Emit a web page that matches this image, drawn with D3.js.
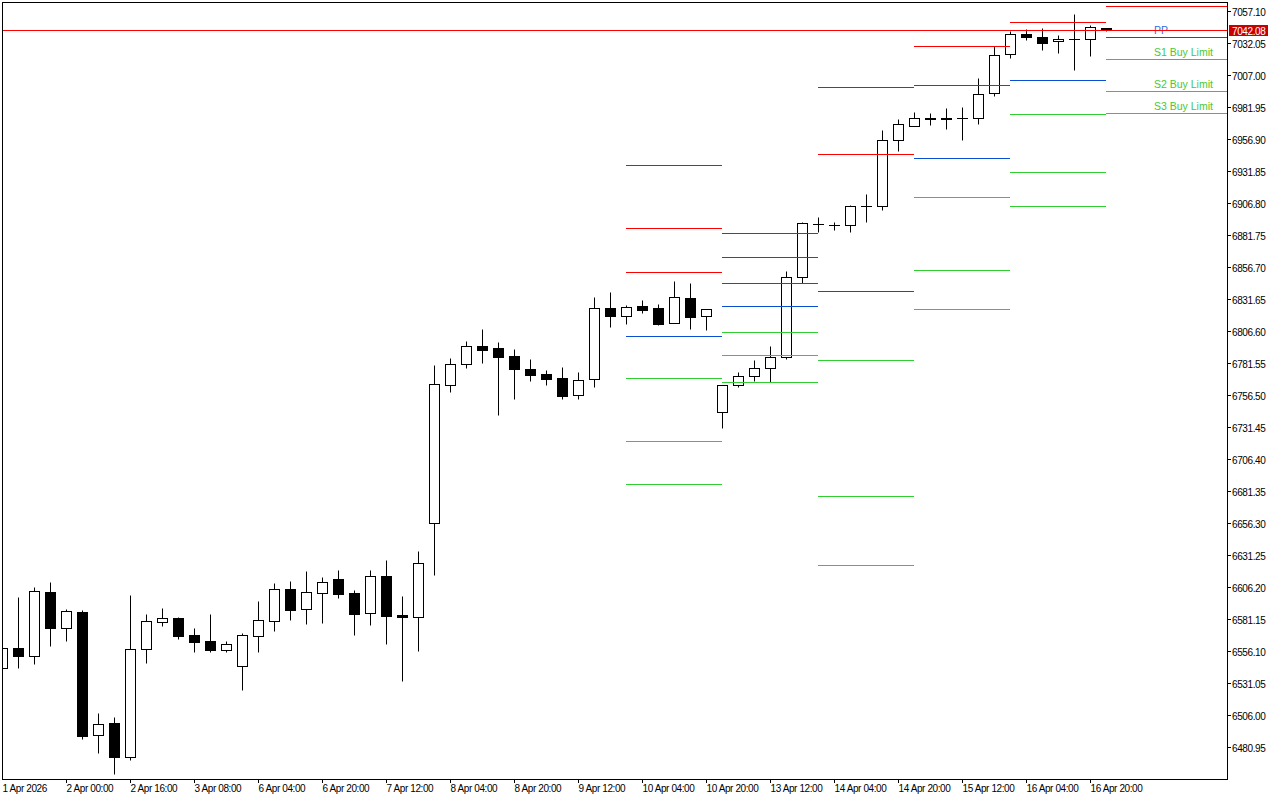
<!DOCTYPE html>
<html>
<head>
<meta charset="utf-8">
<script src="https://cdn.jsdelivr.net/npm/d3@7"></script>
<style>
  html, body { margin: 0; padding: 0; background: #fff; }
  svg { display: block; }
  text { font-family: "Liberation Sans", Arial, sans-serif; }
</style>
</head>
<body>
<div id="chart"></div>
<script>
// 4H bars, 1 Apr 08:00 .. 17 Apr 00:00
const open = [6542.6, 6558.2, 6552.4, 6602.1, 6573.9, 6586.4, 6490.1, 6499.5, 6473.4, 6557.4,
  6578.6, 6581.9, 6568.6, 6563.9, 6557.1, 6544.6, 6568.1, 6579.8, 6604.4, 6589.2,
  6601.7, 6612.2, 6601.3, 6586.1, 6614.8, 6583.9, 6583.0, 6656.3, 6764.1, 6780.5,
  6794.6, 6793.1, 6786.8, 6776.6, 6772.7, 6769.6, 6756.3, 6768.8, 6824.4, 6818.1,
  6825.9, 6824.4, 6812.6, 6832.2, 6818.1, 6743.0, 6764.1, 6771.1, 6777.4, 6786.0,
  6848.6, 6890.1, 6889.3, 6889.3, 6904.2, 6904.2, 6955.9, 6966.8, 6973.7, 6973.7,
  6973.1, 6973.1, 6992.7, 7023.2, 7038.9, 7036.5, 7033.4, 7035.0, 7035.0, 7043.6];
const high = [6559.0, 6598.6, 6606.0, 6610.1, 6588.7, 6588.0, 6507.6, 6504.4, 6599.9, 6585.1,
  6589.8, 6582.5, 6574.1, 6585.1, 6563.9, 6570.0, 6595.2, 6609.6, 6610.9, 6618.7,
  6614.0, 6619.5, 6603.6, 6619.5, 6627.3, 6599.1, 6634.4, 6780.0, 6785.5, 6798.8,
  6808.2, 6798.0, 6792.3, 6784.5, 6776.1, 6778.2, 6774.3, 6833.2, 6836.9, 6827.0,
  6830.9, 6827.7, 6845.7, 6843.9, 6823.6, 6764.3, 6774.3, 6783.7, 6794.9, 6853.6,
  6891.9, 6895.6, 6891.9, 6905.2, 6913.9, 6963.9, 6972.6, 6978.0, 6977.2, 6981.2,
  6981.9, 7004.7, 7029.5, 7041.2, 7042.8, 7043.6, 7038.1, 7054.5, 7045.9, 7043.8];
const low = [6541.0, 6542.6, 6546.2, 6560.2, 6564.2, 6487.4, 6476.5, 6460.0, 6471.0, 6546.9,
  6575.9, 6565.7, 6555.5, 6555.5, 6555.5, 6525.8, 6555.5, 6572.0, 6580.4, 6577.5,
  6578.3, 6597.8, 6568.9, 6576.7, 6561.8, 6532.9, 6556.3, 6615.8, 6759.1, 6777.9,
  6781.8, 6741.1, 6753.6, 6767.7, 6764.6, 6753.6, 6753.6, 6763.0, 6810.0, 6812.3,
  6820.9, 6811.3, 6812.5, 6808.4, 6807.4, 6730.9, 6763.0, 6767.7, 6766.7, 6784.9,
  6844.2, 6884.3, 6885.9, 6884.3, 6892.2, 6901.3, 6947.7, 6966.8, 6968.1, 6965.0,
  6956.4, 6968.9, 6990.8, 7020.5, 7034.6, 7026.8, 7024.5, 7011.2, 7021.6, 7041.8];
const close = [6558.2, 6552.4, 6602.8, 6574.3, 6587.2, 6489.8, 6498.7, 6473.4, 6557.4, 6579.3,
  6581.7, 6568.1, 6563.4, 6557.1, 6561.3, 6568.4, 6580.1, 6604.4, 6588.4, 6602.1,
  6609.9, 6601.0, 6585.3, 6614.8, 6583.7, 6583.1, 6624.8, 6764.9, 6780.5, 6794.6,
  6792.0, 6786.5, 6777.1, 6772.4, 6769.3, 6756.0, 6768.0, 6824.4, 6818.6, 6825.2,
  6823.3, 6812.3, 6833.0, 6817.8, 6823.6, 6764.1, 6771.1, 6777.4, 6786.0, 6848.6,
  6890.9, 6890.0, 6889.2, 6904.2, 6904.1, 6955.9, 6968.4, 6973.1, 6972.2, 6972.2,
  6973.0, 6991.9, 7022.4, 7038.9, 7036.5, 7032.3, 7035.0, 7034.9, 7044.3, 7042.08];

// one label every 4 bars
const timeLabels = ["1 Apr 2026", "2 Apr 00:00", "2 Apr 16:00", "3 Apr 08:00", "6 Apr 04:00",
  "6 Apr 20:00", "7 Apr 12:00", "8 Apr 04:00", "8 Apr 20:00", "9 Apr 12:00", "10 Apr 04:00",
  "10 Apr 20:00", "13 Apr 12:00", "14 Apr 04:00", "14 Apr 20:00", "15 Apr 12:00",
  "16 Apr 04:00", "16 Apr 20:00"];

const priceTicks = [7057.10, 7032.05, 7007.00, 6981.95, 6956.90, 6931.85, 6906.80, 6881.75,
  6856.70, 6831.65, 6806.60, 6781.55, 6756.50, 6731.45, 6706.40, 6681.35, 6656.30, 6631.25,
  6606.20, 6581.15, 6556.10, 6531.05, 6506.00, 6480.95];

// daily pivot levels, one entry per day (10, 13, 14, 15, 16, 17 Apr)
const pivotStart = [39, 45, 51, 57, 63, 69];
const r3 = [6936.55, 6883.32, null, null, null, null];
const r2 = [6887.23, 6864.53, 6997.61, 7029.70, null, null];
const r1 = [6852.79, 6844.18, 6945.16, 6999.17, 7048.49, 7061.25];
const pp = [6802.69, 6826.17, 6837.91, 6942.03, 7003.09, 7036.75];
const s1 = [6769.81, 6805.82, 6783.90, 6911.50, 6976.47, 7019.53];
const s2 = [6720.49, 6787.81, 6677.44, 6854.35, 6931.07, 6994.48];
const s3 = [6686.83, 6766.68, 6623.42, 6823.82, 6904.45, 6977.25];

const lastPrice = 7042.08;

const redColor = '#ff0000';
const blueColor = '#0a4fd2';
const greenColor = '#32cd32';
const tagColor = '#c80000';
const axisFontSize = '10px';

const width = 1280;
const height = 800;
const plotLeft = 2;
const plotTop = 2;
const plotRight = 1227;
const plotBottom = 779;

const levels = [
  {values: r3, color: redColor},
  {values: r2, color: redColor},
  {values: r1, color: redColor},
  {values: pp, color: blueColor, label: 'PP', labelColor: '#2e6ae6'},
  {values: s1, color: greenColor, label: 'S1 Buy Limit', labelColor: '#45c93a'},
  {values: s2, color: greenColor, label: 'S2 Buy Limit', labelColor: '#45c93a'},
  {values: s3, color: greenColor, label: 'S3 Buy Limit', labelColor: '#45c93a'}
];

const xScale = d3.scaleLinear().domain([0, 69]).range([2, 1106]);
const yScale = d3.scaleLinear().domain([6480.95, 7057.10]).range([747, 11]);
const py = v => Math.round(yScale(v)) + 0.5;

const svg = d3.select('#chart')
  .append('svg')
  .attr('width', width)
  .attr('height', height);

svg.append('rect')
  .attr('width', width)
  .attr('height', height)
  .attr('fill', 'white');

svg.append('defs')
  .append('clipPath')
  .attr('id', 'plot-clip')
  .append('rect')
  .attr('x', plotLeft + 1)
  .attr('y', plotTop + 1)
  .attr('width', plotRight - plotLeft - 1)
  .attr('height', plotBottom - plotTop - 1);

const plot = svg.append('g').attr('clip-path', 'url(#plot-clip)');

/* candles */
const candles = d3.range(open.length).map(i => ({
  i, o: open[i], h: high[i], l: low[i], c: close[i]
}));

const candle = plot.append('g')
  .selectAll('g')
  .data(candles)
  .join('g');

candle.append('line')
  .attr('x1', d => xScale(d.i) + 0.5)
  .attr('x2', d => xScale(d.i) + 0.5)
  .attr('y1', d => py(d.h))
  .attr('y2', d => py(d.l))
  .attr('stroke', 'black')
  .attr('stroke-width', 1);

candle.each(function (d) {
  const g = d3.select(this);
  const cx = xScale(d.i);
  const top = py(Math.max(d.o, d.c));
  const bottom = py(Math.min(d.o, d.c));
  if (bottom - top < 1) {
    g.append('line')
      .attr('x1', cx - 5)
      .attr('x2', cx + 6)
      .attr('y1', top)
      .attr('y2', top)
      .attr('stroke', 'black');
  } else {
    g.append('rect')
      .attr('x', cx - 4.5)
      .attr('y', top)
      .attr('width', 10)
      .attr('height', bottom - top)
      .attr('fill', d.c >= d.o ? 'white' : 'black')
      .attr('stroke', 'black')
      .attr('stroke-width', 1);
  }
});

/* pivot segments */
const pivots = plot.append('g');
levels.forEach(level => {
  level.values.forEach((v, i) => {
    if (v === null) return;
    const x1 = xScale(pivotStart[i]);
    const x2 = i < pivotStart.length - 1 ? xScale(pivotStart[i + 1]) : plotRight;
    pivots.append('line')
      .attr('x1', x1)
      .attr('x2', x2)
      .attr('y1', py(v))
      .attr('y2', py(v))
      .attr('stroke', level.color)
      .attr('stroke-width', 1);
  });
});

// labels for the current day only
const lastDay = pivotStart.length - 1;
levels.filter(l => l.label).forEach(level => {
  pivots.append('text')
    .attr('x', 1154)
    .attr('y', py(level.values[lastDay]) - 3.5)
    .attr('fill', level.labelColor)
    .style('font-size', '10.5px')
    .text(level.label);
});

/* last price line */
plot.append('line')
  .attr('x1', plotLeft)
  .attr('x2', plotRight)
  .attr('y1', py(lastPrice))
  .attr('y2', py(lastPrice))
  .attr('stroke', redColor);

/* frame */
svg.append('rect')
  .attr('x', plotLeft + 0.5)
  .attr('y', plotTop + 0.5)
  .attr('width', plotRight - plotLeft)
  .attr('height', plotBottom - plotTop)
  .attr('fill', 'none')
  .attr('stroke', 'black');

/* axes */
const yAxis = d3.axisRight(yScale)
  .tickValues(priceTicks)
  .tickSize(4)
  .tickPadding(1)
  .tickFormat(d3.format('.2f'));

const yAxisElement = svg.append('g')
  .attr('transform', `translate(${plotRight},0)`)
  .call(yAxis);
yAxisElement.select('.domain').remove();
yAxisElement.selectAll('text')
  .attr('dy', '0.4em')
  .style('font-family', '"Liberation Sans", Arial, sans-serif')
  .style('font-size', axisFontSize)
  .style('letter-spacing', '-0.4px')
  .attr('fill', 'black');

const xTickIdx = timeLabels.map((_, k) => k * 4);
const xAxis = d3.axisBottom(xScale)
  .tickValues(xTickIdx)
  .tickSize(4)
  .tickPadding(2)
  .tickFormat((d, i) => timeLabels[i]);

const xAxisElement = svg.append('g')
  .attr('transform', `translate(0,${plotBottom})`)
  .call(xAxis);
xAxisElement.select('.domain').remove();
xAxisElement.selectAll('.tick').filter((d, i) => i === 0).select('line').remove();
xAxisElement.selectAll('text')
  .attr('text-anchor', 'start')
  .attr('x', 0)
  .style('font-family', '"Liberation Sans", Arial, sans-serif')
  .style('font-size', axisFontSize)
  .style('letter-spacing', '-0.4px')
  .attr('fill', 'black');

/* price tag */
const tagY = py(lastPrice);
svg.append('rect')
  .attr('x', plotRight + 2)
  .attr('y', tagY - 5.5)
  .attr('width', 39)
  .attr('height', 11)
  .attr('fill', tagColor);

svg.append('text')
  .attr('x', plotRight + 5)
  .attr('y', tagY + 4)
  .attr('fill', 'white')
  .style('font-size', axisFontSize)
  .style('letter-spacing', '-0.4px')
  .text(d3.format('.2f')(lastPrice));
</script>
</body>
</html>
